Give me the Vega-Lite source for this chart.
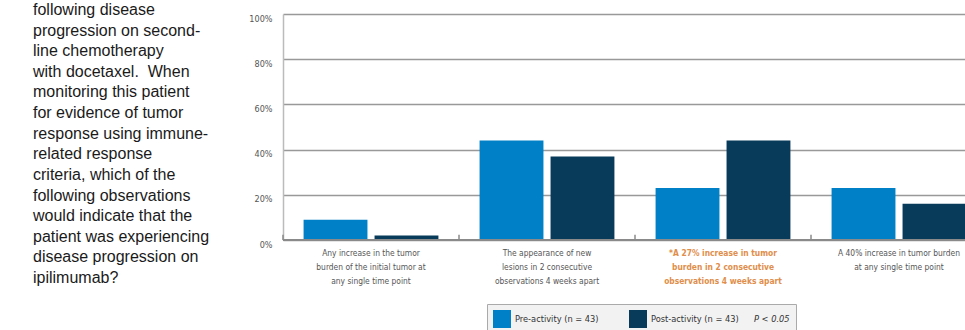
{
  "$schema": "https://vega.github.io/schema/vega-lite/v6.json",
  "autosize": {"type": "pad"},
  "padding": {"left": 33, "top": 2, "right": 0, "bottom": 0},
  "background": "white",
  "bounds": "flush",
  "spacing": 33,
  "config": {
    "view": {"stroke": null},
    "font": "Liberation Sans Narrow, DejaVu Sans Condensed, sans-serif"
  },
  "datasets": {
    "question": [
      {"line": 1, "text": "following disease"},
      {"line": 2, "text": "progression on second-"},
      {"line": 3, "text": "line chemotherapy"},
      {"line": 4, "text": "with docetaxel.\u00a0 When"},
      {"line": 5, "text": "monitoring this patient"},
      {"line": 6, "text": "for evidence of tumor"},
      {"line": 7, "text": "response using immune-"},
      {"line": 8, "text": "related response"},
      {"line": 9, "text": "criteria, which of the"},
      {"line": 10, "text": "following observations"},
      {"line": 11, "text": "would indicate that the"},
      {"line": 12, "text": "patient was experiencing"},
      {"line": 13, "text": "disease progression on"},
      {"line": 14, "text": "ipilimumab?"}
    ],
    "bars": [
      {"category": "Any increase in the tumor|burden of the initial tumor at|any single time point", "series": "Pre-activity (n = 43)", "value": 9},
      {"category": "Any increase in the tumor|burden of the initial tumor at|any single time point", "series": "Post-activity (n = 43)", "value": 2},
      {"category": "The appearance of new|lesions in 2 consecutive|observations 4 weeks apart", "series": "Pre-activity (n = 43)", "value": 44},
      {"category": "The appearance of new|lesions in 2 consecutive|observations 4 weeks apart", "series": "Post-activity (n = 43)", "value": 37},
      {"category": "*A 27% increase in tumor|burden in 2 consecutive|observations 4 weeks apart", "series": "Pre-activity (n = 43)", "value": 23},
      {"category": "*A 27% increase in tumor|burden in 2 consecutive|observations 4 weeks apart", "series": "Post-activity (n = 43)", "value": 44},
      {"category": "A 40% increase in tumor burden|at any single time point", "series": "Pre-activity (n = 43)", "value": 23},
      {"category": "A 40% increase in tumor burden|at any single time point", "series": "Post-activity (n = 43)", "value": 16}
    ]
  },
  "hconcat": [
    {
      "width": 217,
      "height": 226,
      "data": {"name": "question"},
      "mark": {"type": "text", "align": "left", "baseline": "alphabetic", "font": "Liberation Sans", "fontSize": 16, "color": "#1a1a1a"},
      "encoding": {
        "x": {"value": 0},
        "y": {"field": "line", "type": "ordinal", "axis": null, "scale": {"type": "point", "range": [1, 269], "padding": 0}},
        "text": {"field": "text"}
      }
    },
    {
      "width": 682,
      "height": 226,
      "data": {"name": "bars"},
      "encoding": {
        "x": {
          "field": "category", "type": "nominal", "sort": null,
          "scale": {"range": [0, 704], "paddingInner": 0, "paddingOuter": 0},
          "axis": {
            "title": null,
            "labelExpr": "split(datum.label, '|')",
            "labelAngle": 0,
            "labelFontSize": 8.4,
            "labelLineHeight": 14,
            "labelPadding": 8,
            "labelBaseline": "top",
            "labelLimit": 0,
            "labelColor": {"condition": {"test": "indexof(datum.label, '27%') >= 0", "value": "#e08e4a"}, "value": "#555555"},
            "labelFontWeight": {"condition": {"test": "indexof(datum.label, '27%') >= 0", "value": "bold"}, "value": "normal"},
            "ticks": false,
            "domain": false,
            "grid": false
          }
        }
      },
      "layer": [
        {
          "mark": {"type": "bar", "clip": true},
          "encoding": {
            "xOffset": {
              "field": "series", "type": "nominal",
              "sort": ["Pre-activity (n = 43)", "Post-activity (n = 43)"],
              "scale": {"paddingInner": 0.1, "paddingOuter": 0.29}
            },
            "y": {
              "field": "value", "type": "quantitative",
              "scale": {"domain": [0, 100]},
              "axis": {
                "title": null,
                "values": [0, 20, 40, 60, 80, 100],
                "labelExpr": "datum.value + '%'",
                "ticks": false,
                "labelPadding": 11,
                "labelFontSize": 9,
                "labelColor": "#555555",
                "labelOffset": 4,
                "labelFlush": false,
                "gridColor": "#999999",
                "gridWidth": 1.5,
                "domainColor": "#bbbbbb",
                "domainWidth": 1.5
              }
            },
            "color": {
              "field": "series", "type": "nominal",
              "scale": {"domain": ["Pre-activity (n = 43)", "Post-activity (n = 43)"], "range": ["#0080c6", "#073b59"]},
              "legend": {
                "orient": "none",
                "legendX": 454,
                "legendY": 290,
                "direction": "horizontal",
                "title": "P < 0.05",
                "titleOrient": "right",
                "titleFontSize": 9.2,
                "titleFontWeight": "normal",
                "titleFontStyle": "italic",
                "titleColor": "#333333",
                "titlePadding": 15,
                "titleBaseline": "middle",
                "symbolType": "square",
                "symbolSize": 324,
                "symbolStrokeWidth": 0,
                "symbolOpacity": 1,
                "labelFontSize": 9.2,
                "labelColor": "#333333",
                "labelOffset": 4,
                "columnPadding": 30,
                "fillColor": "#f2f2f2",
                "strokeColor": "#aaaaaa",
                "padding": 6
              }
            }
          }
        },
        {
          "mark": {"type": "rule", "color": "#8a8a8a", "strokeWidth": 1},
          "encoding": {
            "x": {"field": "category", "type": "nominal", "sort": null, "bandPosition": 0},
            "y": {"datum": 0, "type": "quantitative"},
            "y2": {"datum": 2.3}
          }
        },
        {
          "mark": {"type": "rule", "color": "#8a8a8a", "strokeWidth": 2},
          "encoding": {"x": null, "y": {"datum": 0, "type": "quantitative"}}
        }
      ]
    }
  ]
}
